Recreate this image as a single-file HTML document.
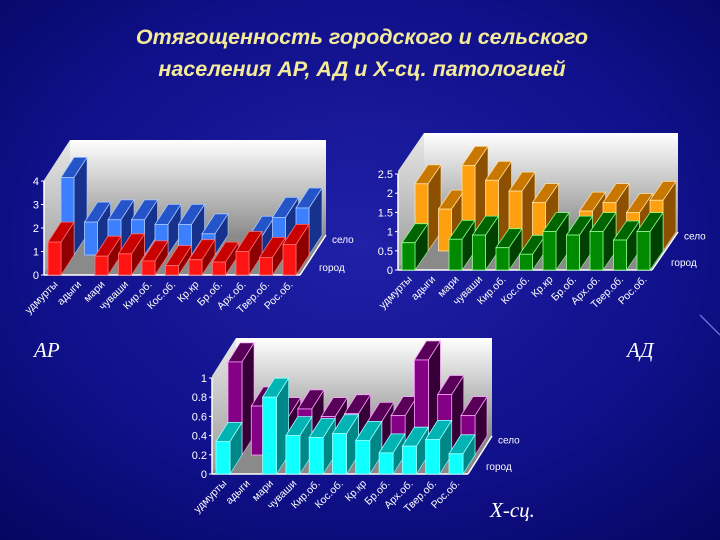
<!DOCTYPE html>
<html><head><meta charset="utf-8">
<style>
html,body{margin:0;padding:0;}
body{width:720px;height:540px;overflow:hidden;background:#0b0b7a;font-family:"Liberation Sans",sans-serif;}
svg{display:block;}
</style></head>
<body>
<svg id="slide" width="720" height="540" viewBox="0 0 720 540" xmlns="http://www.w3.org/2000/svg">
<defs>
<radialGradient id="bg" cx="50%" cy="45%" r="75%">
<stop offset="0" stop-color="#2020a8"/><stop offset="0.6" stop-color="#10108a"/><stop offset="1" stop-color="#050560"/>
</radialGradient>
<linearGradient id="wall" x1="0" y1="0" x2="0" y2="1">
<stop offset="0" stop-color="#ffffff"/><stop offset="1" stop-color="#8c8c8c"/>
</linearGradient>
<linearGradient id="lwall" x1="0" y1="0" x2="0" y2="1">
<stop offset="0" stop-color="#e8e8e8"/><stop offset="1" stop-color="#9a9a9a"/>
</linearGradient>
</defs>
<rect x="0" y="0" width="720" height="540" fill="url(#bg)"/>
<line x1="700" y1="315" x2="720" y2="335" stroke="#6a6ad0" stroke-width="1.5"/>
<text x="362" y="44" text-anchor="middle" font-family="Liberation Sans, sans-serif" font-size="21.5" font-weight="bold" font-style="italic" fill="#f4eb9a">Отягощенность городского и сельского</text>
<text x="362" y="76" text-anchor="middle" font-family="Liberation Sans, sans-serif" font-size="21.5" font-weight="bold" font-style="italic" fill="#f4eb9a">населения АР, АД и Х-сц.  патологией</text>
<text x="34" y="357" font-family="Liberation Serif, serif" font-size="21" font-style="italic" fill="#ffffff">АР</text>
<text x="627" y="357" font-family="Liberation Serif, serif" font-size="21" font-style="italic" fill="#ffffff">АД</text>
<text x="490" y="517" font-family="Liberation Serif, serif" font-size="21" font-style="italic" fill="#ffffff">Х-сц.</text>
<g id="chartAR"></g>
<g id="chartAD"></g>
<g id="chartXS"></g>
</svg>
<script>
var categories = ["удмурты","адыги","мари","чуваши","Кир.об.","Кос.об.","Кр.кр","Бр.об.","Арх.об.","Твер.об.","Рос.об."];
var arCity = [1.4, 0, 0.8, 0.9, 0.6, 0.4, 0.65, 0.55, 1.0, 0.75, 1.3];
var arVillage = [3.3, 1.4, 1.5, 1.5, 1.3, 1.3, 0.9, 0, 0.8, 1.6, 2.0];
var arTicks = ["0","1","2","3","4"];
var arTickVals = [0,1,2,3,4];
var adCity = [0.71, 0, 0.8, 0.91, 0.58, 0.41, 1.0, 0.91, 1.0, 0.78, 1.0];
var adVillage = [1.75, 1.09, 2.23, 1.84, 1.56, 1.26, 0, 1.04, 1.26, 1.0, 1.32];
var adTicks = ["0","0.5","1","1.5","2","2.5"];
var adTickVals = [0,0.5,1,1.5,2,2.5];
var xsCity = [0.34, 0, 0.8, 0.4, 0.38, 0.42, 0.35, 0.22, 0.29, 0.36, 0.21];
var xsVillage = [0.97, 0.51, 0.4, 0.48, 0.4, 0.43, 0.35, 0.41, 0.99, 0.63, 0.41];
var xsTicks = ["0","0.2","0.4","0.6","0.8","1"];
var xsTickVals = [0,0.2,0.4,0.6,0.8,1];
var legendNames = ["город","село"];

var NS = "http://www.w3.org/2000/svg";
function mk(parent, tag, attrs) {
  var e = document.createElementNS(NS, tag);
  for (var k in attrs) e.setAttribute(k, attrs[k]);
  parent.appendChild(e);
  return e;
}
function pts(a){return a.map(function(p){return p[0].toFixed(1)+","+p[1].toFixed(1);}).join(" ");}

function drawChart(g, c, city, village, ticks, tickVals) {
  var n = categories.length;
  function xScale(i){return c.cx0 + i*c.sp;}
  function yScale(v, row){return c.fy + row*c.dy - v*c.unit;}
  var bx = c.ax + 2*c.dx, by = c.fy + 2*c.dy;
  var wall = mk(g,"rect",{x:bx,y:c.topY,width:c.rightX-c.ax,height:by-c.topY,fill:"url(#wall)"});
  
  
  var lw = mk(g,"polygon",{points:pts([[c.ax,c.fy],[bx,by],[bx,c.topY],[c.ax,c.topY-2*c.dy]]),fill:"url(#lwall)"});
  
  
  var fl = mk(g,"polygon",{points:pts([[c.ax,c.fy],[c.rightX,c.fy],[c.rightX+2*c.dx,by],[bx,by]]),fill:"#8a8a8a"});
  
  
  var ax = mk(g,"line",{x1:c.ax,y1:c.fy,x2:c.ax,y2:yScale(tickVals[tickVals.length-1],0),stroke:"#ffffff","stroke-width":1.5});
  
  
  var xa = mk(g,"line",{x1:c.ax,y1:c.fy,x2:c.rightX,y2:c.fy,stroke:"#ffffff","stroke-width":1.5});
  
  
  var de = mk(g,"polyline",{points:pts([[c.rightX,c.fy],[c.rightX+2*c.dx,by]]),stroke:"#ffffff","stroke-width":1.5,fill:"none"});
  
  
  for (var t=0;t<tickVals.length;t++){
    var ty = yScale(tickVals[t],0);
    var tl = mk(g,"line",{x1:c.ax-3,y1:ty,x2:c.ax,y2:ty,stroke:"#fff"});
    
    
    var tx = mk(g,"text",{x:c.ax-5,y:ty+4,"text-anchor":"end","font-size":11,fill:"#ffffff","font-family":"Liberation Sans, sans-serif"});
    tx.textContent = ticks[t];
    
    
  }
  var rows = [[village,1,c.back,"village"],[city,0,c.front,"city"]];
  rows.forEach(function(r){
    var vals=r[0], row=r[1], col=r[2];
    for (var i=0;i<n;i++){
      var v=vals[i]; if(!(v>0)) continue;
      var x = xScale(i)+row*c.dx, y0 = c.fy+row*c.dy, y1 = yScale(v,row), w=c.bw, ddx=c.dx, ddy=c.dy;
      var bg = mk(g,"g",{});
      
      
      mk(bg,"polygon",{points:pts([[x+w,y0],[x+w+ddx,y0+ddy],[x+w+ddx,y1+ddy],[x+w,y1]]),fill:col[1],stroke:col[3],"stroke-width":0.6});
      mk(bg,"polygon",{points:pts([[x,y1],[x+w,y1],[x+w+ddx,y1+ddy],[x+ddx,y1+ddy]]),fill:col[2],stroke:col[3],"stroke-width":0.8});
      mk(bg,"rect",{x:x,y:y1,width:w,height:y0-y1,fill:col[0],stroke:col[3],"stroke-width":0.8});
    }
  });
  for (var i=0;i<n;i++){
    var lx = xScale(i)+c.bw*0.8, ly = c.fy+10;
    var lt = mk(g,"text",{x:lx,y:ly,"text-anchor":"end","font-size":10.5,fill:"#ffffff","font-family":"Liberation Sans, sans-serif",transform:"rotate(-45 "+lx+" "+ly+")"});
    lt.textContent = categories[i];
    
    
  }
  var l1 = mk(g,"text",{x:c.rightX+c.dx+6,y:c.fy+c.dy*0.2,"font-size":10,fill:"#ffffff","font-family":"Liberation Sans, sans-serif"});
  l1.textContent = legendNames[0];
  
  
  var l2 = mk(g,"text",{x:c.rightX+2*c.dx+6,y:c.fy+c.dy*1.6,"font-size":10,fill:"#ffffff","font-family":"Liberation Sans, sans-serif"});
  l2.textContent = legendNames[1];
  
  
}

drawChart(document.getElementById("chartAR"),
  {ax:44,fy:275,unit:23.5,cx0:48,sp:23.5,bw:13,dx:13,dy:-20,topY:140,rightX:300,
   front:["#ff1414","#8e0000","#c80000","#ff7070"],back:["#3c80ff","#17328c","#2454c8","#a8c8ff"]},
  arCity, arVillage, arTicks, arTickVals);
drawChart(document.getElementById("chartAD"),
  {ax:398,fy:270,unit:38.4,cx0:402,sp:23.5,bw:13,dx:13,dy:-19,topY:133,rightX:652,
   front:["#008a00","#004000","#006400","#8cff8c"],back:["#ffa010","#8c5000","#c87800","#ffe0a0"]},
  adCity, adVillage, adTicks, adTickVals);
drawChart(document.getElementById("chartXS"),
  {ax:212,fy:474,unit:96,cx0:216,sp:23.3,bw:14,dx:12,dy:-19,topY:338,rightX:468,
   front:["#10ffff","#008888","#00b4b4","#a0ffff"],back:["#840084","#360036","#580058","#ffa0ff"]},
  xsCity, xsVillage, xsTicks, xsTickVals);
</script>
</body></html>
